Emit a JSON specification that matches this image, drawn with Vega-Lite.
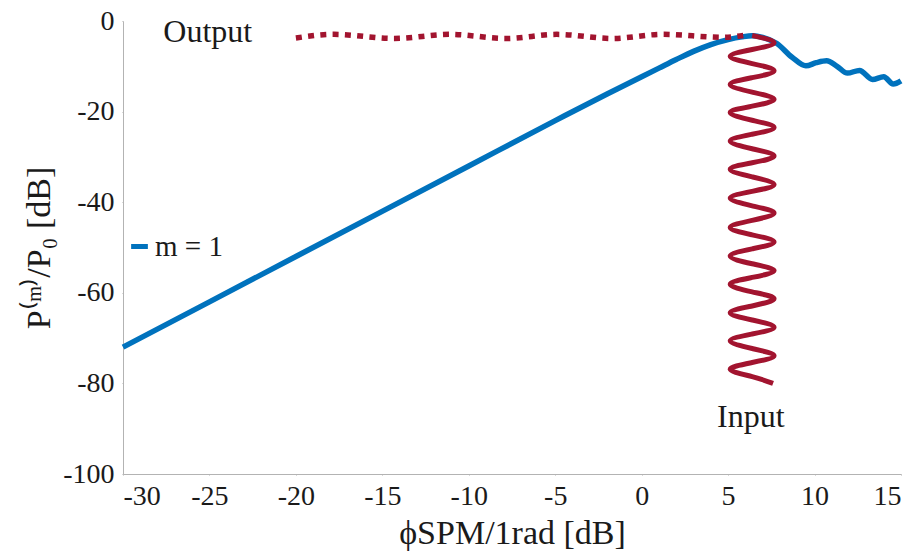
{
  "$schema": "https://vega.github.io/schema/vega-lite/v6.json",
  "autosize": "none",
  "width": 778,
  "height": 453,
  "padding": {"left": 123, "top": 21, "right": 18, "bottom": 85},
  "background": "white",
  "config": {
    "view": {"stroke": null},
    "font": "Liberation Serif",
    "axis": {
      "grid": false,
      "domainColor": "#b3b3b3",
      "tickColor": "#b3b3b3",
      "tickSize": 1,
      "labelFont": "Liberation Serif",
      "labelFontSize": 28,
      "labelColor": "#1a1a1a",
      "titleFont": "Liberation Serif",
      "titleFontSize": 34,
      "titleFontWeight": "normal",
      "titleColor": "#1a1a1a"
    }
  },
  "datasets": {
    "blue": [
      {"phi": -30, "p": -72.0, "s": "m = 1"},
      {"phi": -20, "p": -52.0, "s": "m = 1"},
      {"phi": -10, "p": -32.0, "s": "m = 1"},
      {"phi": -5, "p": -22.0, "s": "m = 1"},
      {"phi": -2, "p": -16.1, "s": "m = 1"},
      {"phi": 0, "p": -12.3, "s": "m = 1"},
      {"phi": 1.0, "p": -10.4, "s": "m = 1"},
      {"phi": 2.0, "p": -8.5, "s": "m = 1"},
      {"phi": 3.0, "p": -6.7, "s": "m = 1"},
      {"phi": 4.0, "p": -5.2, "s": "m = 1"},
      {"phi": 5.0, "p": -4.1, "s": "m = 1"},
      {"phi": 5.8, "p": -3.5, "s": "m = 1"},
      {"phi": 6.4, "p": -3.25, "s": "m = 1"},
      {"phi": 7.0, "p": -3.6, "s": "m = 1"},
      {"phi": 7.8, "p": -4.9, "s": "m = 1"},
      {"phi": 8.7, "p": -8.0, "s": "m = 1"},
      {"phi": 9.5, "p": -9.9, "s": "m = 1"},
      {"phi": 10.1, "p": -9.2, "s": "m = 1"},
      {"phi": 10.7, "p": -8.8, "s": "m = 1"},
      {"phi": 11.3, "p": -10.0, "s": "m = 1"},
      {"phi": 11.9, "p": -11.5, "s": "m = 1"},
      {"phi": 12.6, "p": -10.9, "s": "m = 1"},
      {"phi": 13.35, "p": -12.9, "s": "m = 1"},
      {"phi": 14.0, "p": -12.3, "s": "m = 1"},
      {"phi": 14.55, "p": -13.9, "s": "m = 1"},
      {"phi": 15.0, "p": -13.2, "s": "m = 1"}
    ],
    "output": [
      {"phi": -20.0, "p": -3.75},
      {"phi": -17.8, "p": -2.95},
      {"phi": -14.3, "p": -3.85},
      {"phi": -11.1, "p": -2.95},
      {"phi": -7.8, "p": -3.85},
      {"phi": -4.9, "p": -2.95},
      {"phi": -1.7, "p": -3.85},
      {"phi": 1.2, "p": -2.95},
      {"phi": 4.7, "p": -3.6},
      {"phi": 6.2, "p": -3.0}
    ],
    "input": [
      {"i": 1, "phi": 6.39, "p": -3.2},
      {"i": 2, "phi": 7.66, "p": -4.8},
      {"i": 3, "phi": 6.39, "p": -6.3},
      {"i": 4, "phi": 5.12, "p": -7.8},
      {"i": 5, "phi": 6.39, "p": -9.4},
      {"i": 6, "phi": 7.66, "p": -11.0},
      {"i": 7, "phi": 6.39, "p": -12.5},
      {"i": 8, "phi": 5.12, "p": -14.0},
      {"i": 9, "phi": 6.39, "p": -15.7},
      {"i": 10, "phi": 7.66, "p": -17.3},
      {"i": 11, "phi": 6.39, "p": -18.8},
      {"i": 12, "phi": 5.12, "p": -20.2},
      {"i": 13, "phi": 6.39, "p": -21.9},
      {"i": 14, "phi": 7.66, "p": -23.5},
      {"i": 15, "phi": 6.39, "p": -25.0},
      {"i": 16, "phi": 5.12, "p": -26.5},
      {"i": 17, "phi": 6.39, "p": -28.2},
      {"i": 18, "phi": 7.66, "p": -29.8},
      {"i": 19, "phi": 6.39, "p": -31.3},
      {"i": 20, "phi": 5.12, "p": -32.7},
      {"i": 21, "phi": 6.39, "p": -34.4},
      {"i": 22, "phi": 7.66, "p": -36.1},
      {"i": 23, "phi": 6.39, "p": -37.6},
      {"i": 24, "phi": 5.12, "p": -39.1},
      {"i": 25, "phi": 6.39, "p": -40.8},
      {"i": 26, "phi": 7.66, "p": -42.4},
      {"i": 27, "phi": 6.39, "p": -44.0},
      {"i": 28, "phi": 5.12, "p": -45.6},
      {"i": 29, "phi": 6.39, "p": -47.2},
      {"i": 30, "phi": 7.66, "p": -48.8},
      {"i": 31, "phi": 6.39, "p": -50.3},
      {"i": 32, "phi": 5.12, "p": -51.9},
      {"i": 33, "phi": 6.39, "p": -53.6},
      {"i": 34, "phi": 7.66, "p": -55.1},
      {"i": 35, "phi": 6.39, "p": -56.6},
      {"i": 36, "phi": 5.12, "p": -58.1},
      {"i": 37, "phi": 6.39, "p": -59.8},
      {"i": 38, "phi": 7.66, "p": -61.3},
      {"i": 39, "phi": 6.39, "p": -62.9},
      {"i": 40, "phi": 5.12, "p": -64.4},
      {"i": 41, "phi": 6.39, "p": -66.0},
      {"i": 42, "phi": 7.66, "p": -67.6},
      {"i": 43, "phi": 6.39, "p": -69.1},
      {"i": 44, "phi": 5.12, "p": -70.6},
      {"i": 45, "phi": 6.39, "p": -72.3},
      {"i": 46, "phi": 7.66, "p": -73.9},
      {"i": 47, "phi": 6.39, "p": -75.4},
      {"i": 48, "phi": 5.12, "p": -76.9},
      {"i": 49, "phi": 6.39, "p": -78.5},
      {"i": 50, "phi": 7.6, "p": -80.0}
    ]
  },
  "layer": [
    {
      "data": {"name": "blue"},
      "mark": {"type": "line", "strokeWidth": 5.5, "interpolate": "monotone"},
      "encoding": {
        "x": {
          "field": "phi", "type": "quantitative",
          "scale": {"domain": [-30, 15], "nice": false, "zero": false},
          "axis": {
            "values": [-30, -25, -20, -15, -10, -5, 0, 5, 10, 15],
            "labelExpr": "datum.value + ''",
            "labelPadding": 7,
            "title": "ϕSPM/1rad [dB]",
            "titlePadding": 6,
            "encode": {"ticks": {"update": {"y2": {"value": -7}}}}
          }
        },
        "y": {
          "field": "p", "type": "quantitative",
          "scale": {"domain": [-100, 0], "nice": false, "zero": false},
          "axis": {
            "values": [-100, -80, -60, -40, -20, 0],
            "labelExpr": "datum.value + ''",
            "labelPadding": 8,
            "title": "P⁽ᵐ⁾/P₀ [dB]",
            "titlePadding": 6,
            "encode": {"ticks": {"update": {"x2": {"value": 7}}}}
          }
        },
        "color": {
          "field": "s", "type": "nominal",
          "scale": {"domain": ["m = 1"], "range": ["#0072BD"]},
          "legend": {
            "orient": "none", "legendX": 2, "legendY": 211,
            "title": null, "padding": 0,
            "symbolType": "stroke", "symbolSize": 280, "symbolStrokeWidth": 5,
            "labelFont": "Liberation Serif", "labelFontSize": 29,
            "labelColor": "#1a1a1a", "labelOffset": 1
          }
        }
      }
    },
    {
      "data": {"name": "output"},
      "mark": {"type": "line", "color": "#A2142F", "strokeWidth": 5.5, "strokeDash": [6, 6.3], "strokeCap": "butt", "interpolate": "monotone"},
      "encoding": {
        "x": {"field": "phi", "type": "quantitative"},
        "y": {"field": "p", "type": "quantitative"}
      }
    },
    {
      "data": {"name": "input"},
      "mark": {"type": "line", "color": "#A2142F", "strokeWidth": 5, "interpolate": "natural"},
      "encoding": {
        "x": {"field": "phi", "type": "quantitative"},
        "y": {"field": "p", "type": "quantitative"},
        "order": {"field": "i", "type": "quantitative"}
      }
    },
    {
      "data": {"values": [{"label": "Output"}]},
      "mark": {"type": "text", "font": "Liberation Serif", "fontSize": 32, "align": "center", "baseline": "alphabetic", "color": "#1a1a1a"},
      "encoding": {
        "text": {"field": "label"},
        "x": {"datum": -25.1, "type": "quantitative"},
        "y": {"datum": -4.6, "type": "quantitative"}
      }
    },
    {
      "data": {"values": [{"label": "Input"}]},
      "mark": {"type": "text", "font": "Liberation Serif", "fontSize": 32, "align": "center", "baseline": "alphabetic", "color": "#1a1a1a"},
      "encoding": {
        "text": {"field": "label"},
        "x": {"datum": 6.31, "type": "quantitative"},
        "y": {"datum": -89.6, "type": "quantitative"}
      }
    }
  ]
}
